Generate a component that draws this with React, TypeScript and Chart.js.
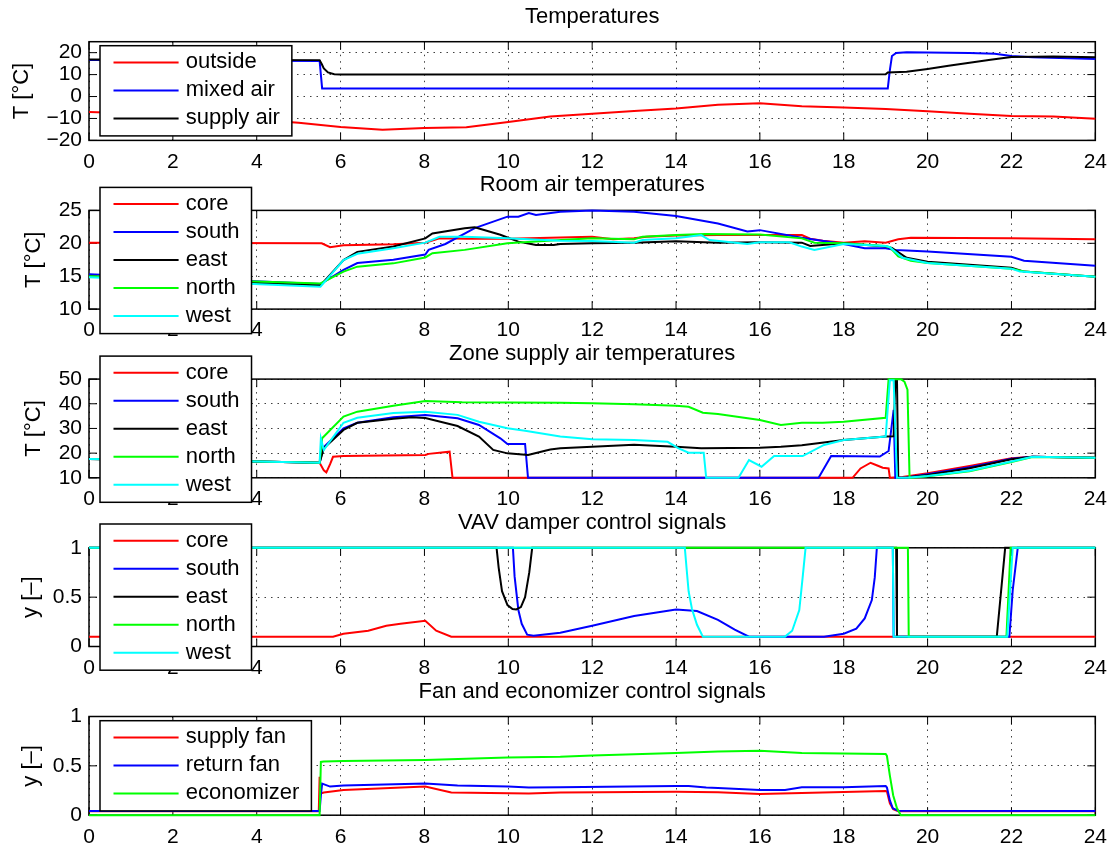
import React, { useEffect, useRef } from "react";
import { Chart, registerables } from "chart.js";

Chart.register(...registerables);

type Pt = [number, number];

// ---------- shared axis ticks ----------
const hourTicks = [0, 2, 4, 6, 8, 10, 12, 14, 16, 18, 20, 22, 24];
const tempTicks = [-20, -10, 0, 10, 20];
const roomTicks = [10, 15, 20, 25];
const zoneTicks = [10, 20, 30, 40, 50];
const signalTicks = [0, 0.5, 1];

// ---------- panel titles / labels ----------
const panelTitles = [
  "Temperatures",
  "Room air temperatures",
  "Zone supply air temperatures",
  "VAV damper control signals",
  "Fan and economizer control signals",
];
const tempLabels = ["outside", "mixed air", "supply air"];
const zoneLabels = ["core", "south", "east", "north", "west"];
const fanLabels = ["supply fan", "return fan", "economizer"];

// ---------- panel 1: temperatures [hour, °C] ----------
const outsideTemp: Pt[] = [
  [0, -7.0], [1, -7.6], [2, -8.4], [3, -9.4], [4, -10.6], [5, -12.0], [6, -13.9], [7, -15.1],
  [8, -14.3], [9, -14.0], [10, -11.6], [11, -9.1], [12, -7.8], [13, -6.6], [14, -5.5], [15, -3.8],
  [16, -3.1], [17, -4.4], [18, -5.0], [19, -5.7], [20, -6.7], [21, -7.8], [22, -8.9], [23, -9.1], [24, -10.1],
];
const mixedAirTemp: Pt[] = [
  [0, 16.6], [2, 16.5], [4, 16.3], [5.5, 16.2], [5.56, 3.7], [19.05, 3.7], [19.1, 12], [19.15, 18.5],
  [19.25, 19.9], [19.5, 20.2], [21, 19.8], [21.6, 19.5], [22, 18.5], [22.5, 17.9], [24, 17.1],
];
const supplyAirTemp: Pt[] = [
  [0, 16.9], [5.5, 16.6], [5.55, 14.8], [5.6, 12.8], [5.7, 11.0], [5.85, 10.2], [6, 10.1], [19, 10.2],
  [19.05, 11.0], [19.5, 11.3], [20, 12.6], [20.5, 14.0], [21, 15.4], [21.5, 16.8], [22, 18.0], [23, 18.3], [24, 17.9],
];

// ---------- panel 2: room air temperatures [hour, °C] ----------
const coreRoomT: Pt[] = [
  [0, 20.1], [5.55, 20.0], [5.75, 19.4], [6.07, 19.7], [7.26, 19.85], [8.02, 20.1], [8.36, 20.75], [9, 20.7],
  [10, 20.7], [11.24, 20.9], [12, 21.0], [12.5, 20.6], [13, 20.75], [13.3, 21.0], [14, 21.2], [15, 21.25],
  [17, 21.25], [17.2, 20.7], [17.5, 20.4], [18, 20.1], [18.5, 20.3], [19, 20.1], [19.3, 20.6], [19.6, 20.85],
  [22, 20.75], [24, 20.6],
];
const southRoomT: Pt[] = [
  [0, 15.3], [5.52, 13.8], [6.07, 15.95], [6.4, 17.0], [7.26, 17.5], [8.02, 18.3], [8.1, 19.0], [8.5, 19.9],
  [9.2, 22.3], [9.98, 24.05], [10.24, 24.05], [10.49, 24.6], [10.66, 24.3], [11.24, 24.8], [12, 25.0],
  [13, 24.8], [14, 24.15], [15, 23.0], [15.7, 21.8], [16, 22.0], [17, 20.85], [18, 19.9], [18.5, 19.25],
  [19, 19.25], [19.2, 19.0], [19.5, 18.9], [20, 18.75], [22, 17.95], [22.3, 17.35], [24, 16.6],
];
const eastRoomT: Pt[] = [
  [0, 15.0], [5.52, 13.6], [6.07, 17.45], [6.4, 18.7], [7.26, 19.5], [8.02, 20.75], [8.19, 21.5], [8.96, 22.3],
  [9.2, 22.45], [9.81, 21.3], [10.24, 20.25], [10.66, 19.75], [11.08, 19.75], [11.24, 19.9], [12, 20.0],
  [13, 20.1], [14, 20.3], [15, 20.1], [16, 20.15], [17, 20.1], [17.2, 19.6], [18, 20.0], [19, 19.5],
  [19.15, 19.3], [19.5, 17.8], [20, 17.2], [22, 16.3], [22.3, 15.7], [24, 14.9],
];
const northRoomT: Pt[] = [
  [0, 15.0], [5.52, 13.9], [6.07, 15.7], [6.4, 16.45], [7.26, 16.95], [8.02, 17.85], [8.19, 18.5], [8.96, 19.0],
  [9.98, 20.0], [11.24, 20.5], [12, 20.75], [13, 20.6], [13.2, 21.0], [14, 21.25], [14.7, 21.4], [16, 21.35],
  [17, 20.75], [17.3, 20.1], [18, 20.0], [19, 19.6], [19.1, 19.4], [19.3, 18.0], [19.6, 17.35], [20, 17.0],
  [22, 16.15], [22.3, 15.7], [24, 14.9],
];
const westRoomT: Pt[] = [
  [0, 14.85], [5.52, 13.4], [6.07, 17.45], [6.4, 18.4], [7.26, 19.25], [8.02, 20.1], [8.36, 21.0], [8.96, 21.0],
  [9.98, 20.75], [11.24, 20.4], [12, 20.35], [13, 20.1], [13.2, 20.5], [14, 20.75], [14.6, 21.25], [14.8, 20.5],
  [15.7, 19.9], [16, 20.15], [16.7, 20.15], [17, 19.5], [17.3, 19.0], [18, 19.9], [19, 19.6], [19.1, 19.4],
  [19.4, 17.8], [20, 17.0], [22, 16.15], [22.2, 15.7], [24, 14.9],
];

// ---------- panel 3: zone supply air temperatures [hour, °C] ----------
const coreSupplyT: Pt[] = [
  [0, 17.6], [2, 17.2], [4, 16.6], [5.5, 16.1], [5.6, 13.0], [5.66, 12.2], [5.75, 15.5], [5.82, 18.5],
  [6.07, 18.8], [8.02, 19.25], [8.1, 19.7], [8.6, 20.6], [8.67, 10], [18.21, 10], [18.4, 13.8], [18.64, 16.1],
  [18.8, 15.0], [18.93, 14.1], [19.07, 13.8], [19.1, 10], [19.4, 10.3], [20, 11.8], [21, 14.8], [22, 17.9],
  [22.5, 18.55], [24, 18.15],
];
const southSupplyT: Pt[] = [
  [0, 17.6], [2, 17.2], [4, 16.6], [5.5, 16.1], [5.56, 20.0], [5.6, 22.5], [6.07, 30.05], [6.4, 32.3],
  [7.26, 34.5], [8.02, 35.45], [8.79, 34.1], [9.3, 31.4], [9.81, 26.0], [9.98, 23.7], [10.4, 23.7], [10.47, 10],
  [17.4, 10], [17.7, 18.8], [18.86, 18.6], [19.07, 20.85], [19.19, 37.5], [19.23, 10], [19.5, 10.1], [20, 11.4],
  [21, 14.3], [22, 17.7], [22.5, 18.5], [24, 18.15],
];
const eastSupplyT: Pt[] = [
  [0, 17.6], [2, 17.2], [4, 16.6], [5.5, 16.1], [5.6, 22.0], [6.07, 29.4], [6.4, 32.3], [7.26, 33.9],
  [7.7, 34.5], [8.02, 34.2], [8.79, 31.0], [9.3, 26.7], [9.64, 21.3], [9.98, 19.9], [10.47, 19.25], [11.0, 21.5],
  [11.24, 22.0], [12, 22.6], [13, 23.4], [14, 22.6], [14.6, 22.0], [16, 22.2], [16.5, 22.6], [17, 23.2],
  [18, 25.3], [19, 26.7], [19.19, 26.8], [19.23, 49.6], [19.27, 49.6], [19.3, 10], [19.5, 10.1], [20, 11.1],
  [21, 13.9], [22, 17.5], [22.5, 18.5], [24, 18.15],
];
const northSupplyT: Pt[] = [
  [0, 17.6], [2, 17.2], [4, 16.6], [5.5, 16.1], [5.56, 26.0], [6.07, 34.8], [6.4, 36.8], [7.26, 39.2],
  [8.02, 41.1], [8.9, 40.6], [11.24, 40.4], [12, 40.2], [13, 39.8], [14, 39.2], [14.3, 38.8], [14.64, 36.4],
  [15, 35.9], [16, 33.4], [16.5, 31.4], [17, 32.3], [17.5, 32.3], [18, 32.7], [19, 34.35], [19.07, 49.9],
  [19.37, 49.9], [19.45, 48.9], [19.52, 45.7], [19.57, 10], [20, 10.6], [21, 12.6], [22, 16.4], [22.5, 18.4],
  [24, 18.1],
];
const westSupplyT: Pt[] = [
  [0, 17.6], [2, 17.2], [4, 16.6], [5.5, 16.1], [5.53, 26.0], [5.6, 21.3], [6.07, 32.3], [6.4, 34.3],
  [7.26, 36.3], [8.02, 36.8], [8.79, 35.5], [9.3, 32.7], [9.98, 30.05], [10.4, 29.1], [11.24, 26.7], [12, 25.6],
  [13, 25.3], [13.8, 24.6], [14.05, 22.0], [14.3, 20.2], [14.66, 20.2], [14.72, 10], [15.49, 10], [15.74, 17.2],
  [16.04, 14.5], [16.34, 18.8], [17.02, 18.8], [17.53, 23.3], [18, 25.3], [19, 26.7], [19.1, 49.5],
  [19.19, 49.5], [19.27, 10], [19.5, 10], [20, 10.7], [21, 12.9], [22, 16.6], [22.5, 18.5], [24, 18.15],
];

// ---------- panel 4: VAV damper signals [hour, -] ----------
const coreDamper: Pt[] = [
  [0, 0.1], [5.82, 0.1], [6.07, 0.13], [6.66, 0.16], [7.09, 0.21], [7.43, 0.23], [8.02, 0.26], [8.28, 0.16],
  [8.64, 0.1], [24, 0.1],
];
const southDamper: Pt[] = [
  [0, 1], [10.11, 1], [10.15, 0.71], [10.24, 0.37], [10.32, 0.23], [10.45, 0.12], [10.6, 0.11], [11.24, 0.14],
  [12, 0.21], [13, 0.31], [14, 0.375], [14.5, 0.36], [15, 0.27], [15.4, 0.17], [15.74, 0.1], [17.53, 0.1],
  [18, 0.13], [18.3, 0.18], [18.5, 0.285], [18.67, 0.47], [18.74, 0.7], [18.79, 1], [19.17, 1], [19.19, 0.1],
  [21.95, 0.1], [22.03, 0.57], [22.15, 1], [24, 1],
];
const eastDamper: Pt[] = [
  [0, 1], [9.72, 1], [9.77, 0.8], [9.85, 0.56], [9.98, 0.42], [10.1, 0.38], [10.19, 0.375], [10.3, 0.4],
  [10.4, 0.5], [10.5, 0.75], [10.57, 1], [19.25, 1], [19.27, 0.1], [21.65, 0.1], [21.85, 1], [24, 1],
];
const northDamper: Pt[] = [
  [0, 1], [19.53, 1], [19.55, 0.1], [21.88, 0.1], [21.98, 1], [24, 1],
];
const westDamper: Pt[] = [
  [0, 1], [14.21, 1], [14.25, 0.8], [14.3, 0.56], [14.38, 0.38], [14.5, 0.22], [14.64, 0.1], [16.6, 0.1],
  [16.77, 0.16], [16.94, 0.37], [17.02, 0.7], [17.09, 1], [19.17, 1], [19.19, 0.1], [21.9, 0.1], [22.03, 1], [24, 1],
];

// ---------- panel 5: fan and economizer signals [hour, -] ----------
const supplyFan: Pt[] = [
  [0, 0.04], [5.48, 0.04], [5.5, 0.39], [5.53, 0.22], [5.6, 0.23], [6.07, 0.255], [8.02, 0.29], [8.64, 0.23],
  [10.49, 0.22], [11.24, 0.23], [14, 0.238], [15, 0.232], [16, 0.215], [17, 0.225], [19, 0.245], [19.03, 0.24],
  [19.1, 0.12], [19.18, 0.06], [19.3, 0.04], [24, 0.04],
];
const returnFan: Pt[] = [
  [0, 0.043], [5.5, 0.043], [5.53, 0.2], [5.56, 0.32], [5.75, 0.29], [6.07, 0.3], [8.02, 0.32], [8.79, 0.3],
  [10, 0.29], [10.49, 0.28], [11.24, 0.283], [14, 0.296], [14.3, 0.296], [14.72, 0.28], [15, 0.275],
  [16, 0.255], [16.6, 0.255], [17, 0.283], [18, 0.283], [19, 0.296], [19.03, 0.28], [19.1, 0.15], [19.17, 0.07],
  [19.3, 0.045], [24, 0.043],
];
const economizer: Pt[] = [
  [0, 0], [5.5, 0], [5.53, 0.54], [5.6, 0.545], [6.07, 0.55], [8.02, 0.56], [9.98, 0.585], [11.24, 0.593],
  [12, 0.605], [14, 0.63], [15, 0.645], [16, 0.654], [17, 0.63], [18, 0.625], [19, 0.62], [19.03, 0.6],
  [19.1, 0.4], [19.18, 0.2], [19.27, 0.07], [19.36, 0], [24, 0],
];

// ---------- styling ----------
const W = 1116;
const H = 848;
const FONT = '"Liberation Sans", Arial, Helvetica, sans-serif';
const RED = "#ff0000";
const BLUE = "#0000ff";
const BLACK = "#000000";
const GREEN = "#00ff00";
const CYAN = "#00ffff";
const zoneColors = [RED, BLUE, BLACK, GREEN, CYAN];
const threeColorsTemp = [RED, BLUE, BLACK];
const threeColorsFan = [RED, BLUE, GREEN];

const PLOT_LEFT = 89;
const PLOT_RIGHT = 1097;
const PLOT_H = 98.7;
const X_AXIS_H = 30;

interface Series { label: string; color: string; data: Pt[] }
interface PanelSpec {
  title: string;
  yLabel: string;
  yMin: number;
  yMax: number;
  yTicks: number[];
  series: Series[];
  top: number;
  legendOffset: number;
  yTitlePad: number;
}

const mk = (labels: string[], colors: string[], data: Pt[][]): Series[] =>
  labels.map((l, i) => ({ label: l, color: colors[i], data: data[i] }));

const panels: PanelSpec[] = [
  {
    title: panelTitles[0], yLabel: "T [°C]", yMin: -20, yMax: 25, yTicks: tempTicks,
    series: mk(tempLabels, threeColorsTemp, [outsideTemp, mixedAirTemp, supplyAirTemp]),
    top: 41.7, legendOffset: 4, yTitlePad: 8.5,
  },
  {
    title: panelTitles[1], yLabel: "T [°C]", yMin: 10, yMax: 25, yTicks: roomTicks,
    series: mk(zoneLabels, zoneColors, [coreRoomT, southRoomT, eastRoomT, northRoomT, westRoomT]),
    top: 210.4, legendOffset: -23, yTitlePad: 20.8,
  },
  {
    title: panelTitles[2], yLabel: "T [°C]", yMin: 10, yMax: 50, yTicks: zoneTicks,
    series: mk(zoneLabels, zoneColors, [coreSupplyT, southSupplyT, eastSupplyT, northSupplyT, westSupplyT]),
    top: 379.1, legendOffset: -23, yTitlePad: 20.8,
  },
  {
    title: panelTitles[3], yLabel: "y [–]", yMin: 0, yMax: 1, yTicks: signalTicks,
    series: mk(zoneLabels, zoneColors, [coreDamper, southDamper, eastDamper, northDamper, westDamper]),
    top: 547.8, legendOffset: -23.8, yTitlePad: 17.8,
  },
  {
    title: panelTitles[4], yLabel: "y [–]", yMin: 0, yMax: 1, yTicks: signalTicks,
    series: mk(fanLabels, threeColorsFan, [supplyFan, returnFan, economizer]),
    top: 716.5, legendOffset: 4.2, yTitlePad: 17.8,
  },
];

const fmtTick = (v: number | string) => {
  const n = Number(v);
  return n < 0 ? "\u2212" + String(Math.abs(n)) : String(n);
};

const matlabPlugin = {
  id: "matlab",
  beforeDatasetsDraw(chart: any, _args: any, opts: any) {
    const { ctx, chartArea: a, scales } = chart;
    ctx.save();
    ctx.strokeStyle = "#000";
    ctx.lineWidth = 1;
    ctx.setLineDash([]);
    ctx.beginPath();
    const tl = 8;
    for (const t of hourTicks) {
      const x = scales.x.getPixelForValue(t);
      ctx.moveTo(x, a.bottom);
      ctx.lineTo(x, a.bottom - tl);
      ctx.moveTo(x, a.top);
      ctx.lineTo(x, a.top + tl);
    }
    for (const t of opts.yTicks as number[]) {
      const y = scales.y.getPixelForValue(t);
      ctx.moveTo(a.left, y);
      ctx.lineTo(a.left + tl, y);
      ctx.moveTo(a.right, y);
      ctx.lineTo(a.right - tl, y);
    }
    ctx.stroke();
    ctx.lineWidth = 1.5;
    ctx.strokeRect(a.left, a.top, a.right - a.left, a.bottom - a.top);
    ctx.restore();
  },
  afterDraw(chart: any, _args: any, opts: any) {
    const { ctx, chartArea: a } = chart;
    ctx.save();
    // title
    ctx.font = `22px ${FONT}`;
    ctx.fillStyle = "#000";
    ctx.textAlign = "center";
    ctx.textBaseline = "middle";
    ctx.fillText(opts.title, (a.left + a.right) / 2, a.top - 25);
    // legend
    const series: Series[] = opts.series;
    const n = series.length;
    const top = a.top + opts.legendOffset;
    const rowH = 28;
    const first = 16.7;
    const boxH = first + (n - 1) * rowH + 17.5;
    const left = a.left + 11;
    const lineX0 = a.left + 24.5;
    const lineX1 = a.left + 89.6;
    const textX = a.left + 96.7;
    const maxW = Math.max(...series.map((s) => ctx.measureText(s.label).width));
    const right = textX + maxW + 12;
    ctx.fillStyle = "#fff";
    ctx.fillRect(left, top, right - left, boxH);
    ctx.strokeStyle = "#000";
    ctx.lineWidth = 1.5;
    ctx.strokeRect(left, top, right - left, boxH);
    ctx.textAlign = "left";
    series.forEach((s, i) => {
      const y = top + first + i * rowH;
      ctx.strokeStyle = s.color;
      ctx.lineWidth = 2;
      ctx.beginPath();
      ctx.moveTo(lineX0, y);
      ctx.lineTo(lineX1, y);
      ctx.stroke();
      ctx.fillStyle = "#000";
      ctx.fillText(s.label, textX, y);
    });
    ctx.restore();
  },
};

function buildConfig(spec: PanelSpec): any {
  const gridOpts = { color: "rgba(0,0,0,0.75)", lineWidth: 1, drawTicks: false };
  const borderOpts = { display: false, dash: [1.5, 5] };
  const n = spec.series.length;
  return {
    type: "line",
    data: {
      datasets: spec.series.map((s, i) => ({
        label: s.label,
        data: s.data,
        borderColor: s.color,
        backgroundColor: s.color,
        borderWidth: 2,
        pointRadius: 0,
        pointHoverRadius: 0,
        tension: 0,
        fill: false,
        order: n - i,
        clip: 4,
      })),
    },
    options: {
      responsive: false,
      animation: false,
      events: [],
      layout: {
        padding: {
          left: 0,
          right: W - PLOT_RIGHT,
          top: spec.top,
          bottom: H - spec.top - PLOT_H - X_AXIS_H,
        },
      },
      plugins: {
        legend: { display: false },
        tooltip: { enabled: false },
        title: { display: false },
        matlab: { title: spec.title, series: spec.series, yTicks: spec.yTicks, legendOffset: spec.legendOffset },
      },
      scales: {
        x: {
          type: "linear",
          min: 0,
          max: 24,
          afterBuildTicks: (s: any) => { s.ticks = hourTicks.map((v) => ({ value: v })); },
          afterFit: (s: any) => { s.height = X_AXIS_H; },
          ticks: {
            font: { family: FONT, size: 21 },
            color: "#000",
            padding: 9,
            maxRotation: 0,
            autoSkip: false,
            callback: (v: any) => fmtTick(v),
          },
          grid: gridOpts,
          border: borderOpts,
        },
        y: {
          type: "linear",
          min: spec.yMin,
          max: spec.yMax,
          afterBuildTicks: (s: any) => { s.ticks = spec.yTicks.map((v) => ({ value: v })); },
          afterFit: (s: any) => { s.width = PLOT_LEFT; },
          ticks: {
            font: { family: FONT, size: 21 },
            color: "#000",
            padding: 7,
            autoSkip: false,
            callback: (v: any) => fmtTick(v),
          },
          grid: gridOpts,
          border: borderOpts,
          title: {
            display: true,
            text: spec.yLabel,
            font: { family: FONT, size: 22 },
            color: "#000",
            padding: { top: spec.yTitlePad, bottom: 0 },
          },
        },
      },
    },
    plugins: [matlabPlugin],
  };
}

function Panel({ spec }: { spec: PanelSpec }) {
  const ref = useRef<HTMLCanvasElement | null>(null);
  useEffect(() => {
    if (!ref.current) return;
    const chart = new Chart(ref.current, buildConfig(spec));
    return () => chart.destroy();
  }, [spec]);
  return (
    <canvas
      ref={ref}
      width={W}
      height={H}
      style={{ position: "absolute", left: 0, top: 0, width: W, height: H }}
    />
  );
}

export default function App() {
  return (
    <div
      style={{
        position: "fixed",
        left: 0,
        top: 0,
        width: W,
        height: H,
        background: "#fff",
        overflow: "hidden",
      }}
    >
      {panels.map((p, i) => (
        <Panel key={i} spec={p} />
      ))}
    </div>
  );
}
